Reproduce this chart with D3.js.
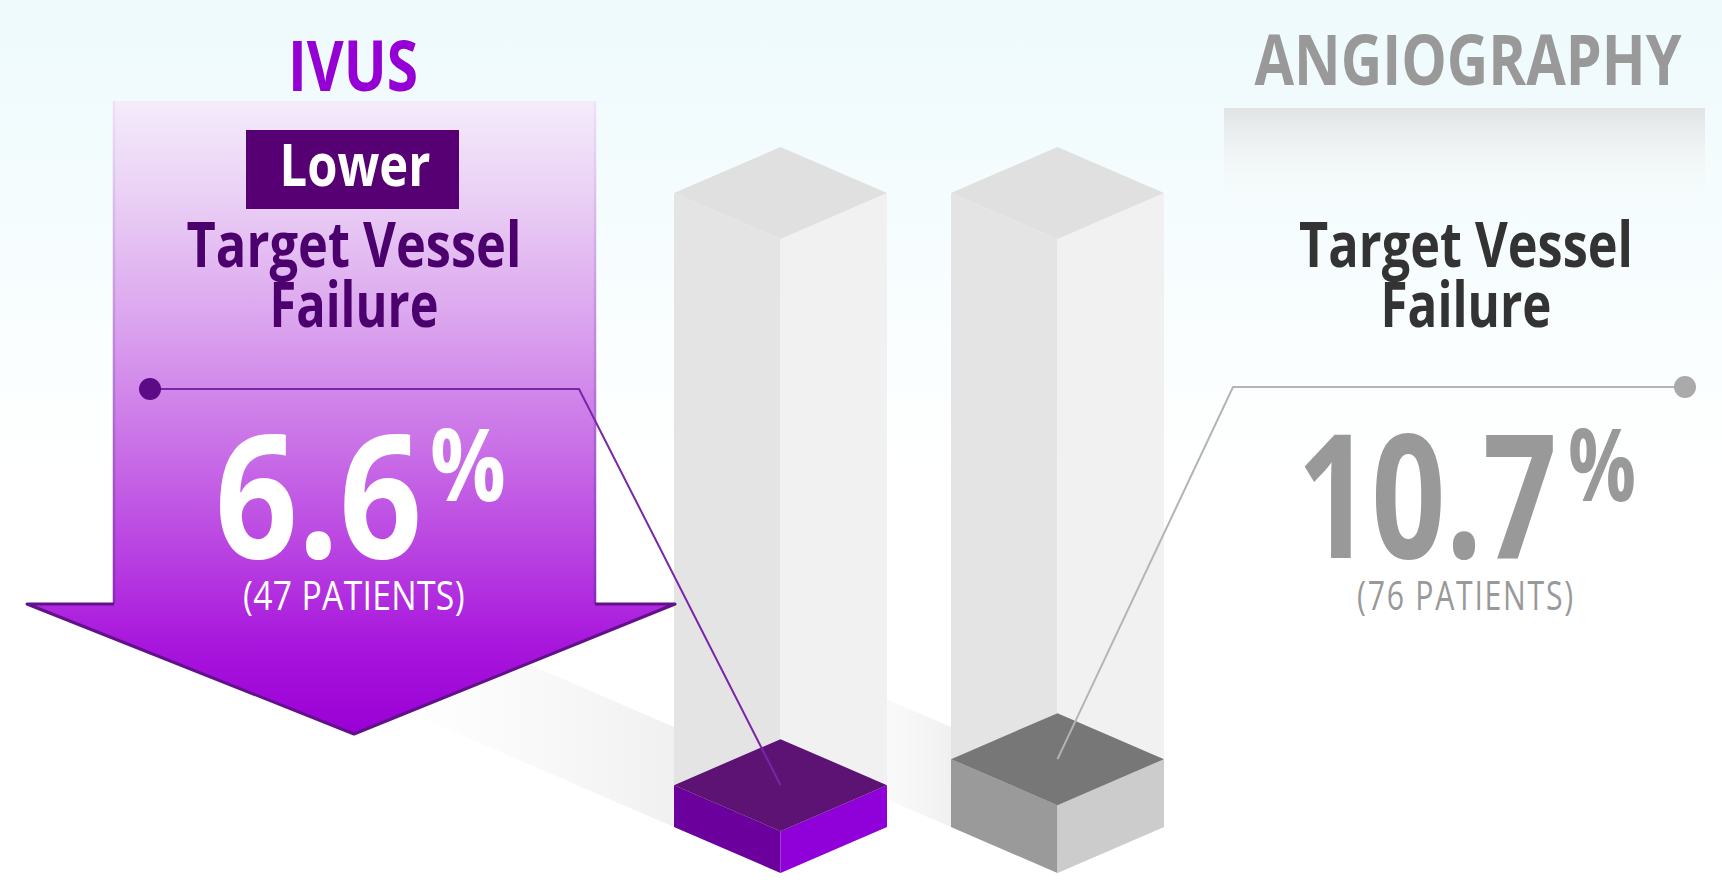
<!DOCTYPE html>
<html>
<head>
<meta charset="utf-8">
<script src="https://cdn.jsdelivr.net/npm/d3@7"></script>
<style>
  html, body { margin: 0; padding: 0; background: #ffffff; }
  svg { display: block; }
  text { font-family: "Open Sans", "Noto Sans", "DejaVu Sans", sans-serif; }
</style>
</head>
<body>
<svg id="chart" width="1722" height="882"></svg>
<script>
// ---------------- data ----------------
const categories   = ["IVUS", "ANGIOGRAPHY"];
const failureRates = [6.6, 10.7];          // % target vessel failure
const patients     = [47, 76];             // number of patients
const scaleMax     = 100;                  // ghost column = 100 %
const outcomeLines = ["Target Vessel", "Failure"];
const badgeLabel   = "Lower";

// ---------------- layout ----------------
const W = 1722, H = 882;
const svg = d3.select("#chart");
const defs = svg.append("defs");

const x = d3.scaleBand().domain(categories).range([674, 1164]).paddingInner(0.231);
const hScale = d3.scaleLinear().domain([0, scaleMax]).range([0, 634]);
const floorY = 873;          // front-bottom corner of the columns
const depth = 46;            // isometric half-depth
const halfW = x.bandwidth() / 2;
const cx = c => x(c) + halfW;

const palette = {
  IVUS:        { top: "#5c1373", left: "#6b009d", right: "#9000d8", text: "#ffffff", line: "#7a26a6", dot: "#5c0a86" },
  ANGIOGRAPHY: { top: "#777777", left: "#9a9a9a", right: "#cccccc", text: "#999999", line: "#b4b4b4", dot: "#aaaaaa" }
};

// ---------------- background ----------------
const bg = defs.append("linearGradient").attr("id", "bg").attr("x1", 0).attr("y1", 0).attr("x2", 0).attr("y2", 1);
bg.append("stop").attr("offset", "0%").attr("stop-color", "#eefafc");
bg.append("stop").attr("offset", "30%").attr("stop-color", "#f7fdfe");
bg.append("stop").attr("offset", "55%").attr("stop-color", "#ffffff");
svg.append("rect").attr("width", W).attr("height", H).attr("fill", "url(#bg)");

// ---------------- floor shadows ----------------
const sh = defs.append("linearGradient").attr("id", "shadow").attr("x1", 1).attr("y1", 0).attr("x2", 0).attr("y2", 0);
sh.append("stop").attr("offset", "0%").attr("stop-color", "#eaeaea").attr("stop-opacity", 0.7);
sh.append("stop").attr("offset", "100%").attr("stop-color", "#f4f4f4").attr("stop-opacity", 0);
const shadowLen = [300, 120];
const shadowH = 100;
categories.forEach((c, i) => {
  const x0 = cx(c) - halfW, y0 = floorY - depth;
  const L = shadowLen[i];
  const dy = L * depth / halfW;
  svg.append("path")
    .attr("d", `M${x0},${y0} L${x0 - L},${y0 - dy} L${x0 - L},${y0 - dy - shadowH} L${x0},${y0 - shadowH} Z`)
    .attr("fill", "url(#shadow)");
});

// ---------------- isometric boxes ----------------
function faces(c, h) {
  const m = cx(c), l = m - halfW, r = m + halfW, b = floorY;
  return {
    left:  [[l, b - depth], [m, b], [m, b - h], [l, b - depth - h]],
    right: [[m, b], [r, b - depth], [r, b - depth - h], [m, b - h]],
    top:   [[l, b - depth - h], [m, b - 2 * depth - h], [r, b - depth - h], [m, b - h]]
  };
}
const poly = pts => "M" + pts.map(p => p.join(",")).join("L") + "Z";

const ghost = svg.append("g");
categories.forEach(c => {
  const f = faces(c, hScale(scaleMax));
  ghost.append("path").attr("d", poly(f.left)).attr("fill", "#e4e4e4");
  ghost.append("path").attr("d", poly(f.right)).attr("fill", "#f1f1f1");
  ghost.append("path").attr("d", poly(f.top)).attr("fill", "#e0e0e0");
});

const bars = svg.append("g");
categories.forEach((c, i) => {
  const f = faces(c, hScale(failureRates[i]));
  const p = palette[c];
  bars.append("path").attr("d", poly(f.left)).attr("fill", p.left);
  bars.append("path").attr("d", poly(f.right)).attr("fill", p.right);
  bars.append("path").attr("d", poly(f.top)).attr("fill", p.top);
});

// ---------------- IVUS arrow ----------------
const ag = defs.append("linearGradient").attr("id", "arrowFill").attr("gradientUnits", "userSpaceOnUse")
  .attr("x1", 0).attr("y1", 101).attr("x2", 0).attr("y2", 734);
[["0%", "#f4ecfb"], ["15%", "#ead0f5"], ["35%", "#dba4ee"], ["55%", "#c96fe7"], ["72%", "#b840e1"], ["86%", "#a816dc"], ["100%", "#9a00d6"]]
  .forEach(([o, col]) => ag.append("stop").attr("offset", o).attr("stop-color", col));
const edgeG = defs.append("linearGradient").attr("id", "edge").attr("gradientUnits", "userSpaceOnUse")
  .attr("x1", 0).attr("y1", 101).attr("x2", 0).attr("y2", 604);
edgeG.append("stop").attr("offset", "0%").attr("stop-color", "#efe3f8");
edgeG.append("stop").attr("offset", "100%").attr("stop-color", "#8a28be");

const arrow = svg.append("g");
arrow.append("path").attr("d", "M114,101 L595,101 L595,604 L675,604 L354,734 L27,604 L114,604 Z")
  .attr("fill", "url(#arrowFill)");
arrow.append("path").attr("d", "M114,101 L114,604 M595,101 L595,604")
  .attr("stroke", "url(#edge)").attr("stroke-width", 2.5).attr("fill", "none");
arrow.append("path").attr("d", "M114,604 L27,604 L354,734 L675,604 L595,604")
  .attr("stroke", "#62108c").attr("stroke-width", 3).attr("fill", "none").attr("stroke-linejoin", "round");

// ---------------- right backdrop ----------------
const rb = defs.append("linearGradient").attr("id", "rightBox").attr("x1", 0).attr("y1", 0).attr("x2", 0).attr("y2", 1);
rb.append("stop").attr("offset", "0%").attr("stop-color", "#e2e4e4");
rb.append("stop").attr("offset", "100%").attr("stop-color", "#ffffff").attr("stop-opacity", 0);
svg.append("rect").attr("x", 1224).attr("y", 108).attr("width", 481).attr("height", 112).attr("fill", "url(#rightBox)");

// ---------------- text helpers ----------------
// centred label squeezed horizontally to a target width
function label(g, str, xc, y, size, weight, color, width) {
  const t = g.append("text").attr("text-anchor", "middle")
    .attr("font-size", size).attr("font-weight", weight).attr("fill", color).text(str);
  const len = t.node().getComputedTextLength();
  t.attr("transform", `translate(${xc},${y}) scale(${width / len},1)`);
  return t;
}

const txt = svg.append("g");
// titles
label(txt, categories[0], 353, 91, 69, 700, "#9500d5", 130);
label(txt, categories[1], 1468, 85, 70, 700, "#999999", 427);

// IVUS badge
txt.append("rect").attr("x", 246).attr("y", 130).attr("width", 213).attr("height", 79).attr("fill", "#560073");
label(txt, badgeLabel, 355, 186, 60, 700, "#ffffff", 151);

// outcome label
label(txt, outcomeLines[0], 354, 267, 62, 700, "#4b006e", 335);
label(txt, outcomeLines[1], 354, 327, 62, 700, "#4b006e", 169);
label(txt, outcomeLines[0], 1466, 267, 62, 700, "#333333", 334);
label(txt, outcomeLines[1], 1466, 327, 62, 700, "#333333", 171);

// value block: number + superscript % + patient count, one text element
// [numX, numW, pctX, pctW, patX, patW]
const valueBox = [[215, 207, 430, 67, 243, 222], [1297, 260, 1568, 57, 1357, 218]];
categories.forEach((c, i) => {
  const p = palette[c];
  const [vx, vw, px, pw, nx, nw] = valueBox[i];
  const t = txt.append("text").attr("fill", p.text).attr("text-anchor", "start");
  const num = t.append("tspan").attr("font-size", 172).attr("font-weight", 700)
    .attr("x", 0).attr("y", 558).text(d3.format(".1f")(failureRates[i]));
  const pct = t.append("tspan").attr("font-size", 100).attr("font-weight", 700)
    .attr("y", 501).text("%");
  const pat = t.append("tspan").attr("font-size", 40).attr("font-weight", 400)
    .attr("y", 610).text(`(${patients[i]} PATIENTS)`);
  const s = vw / num.node().getComputedTextLength();
  const fit = (ts, target, str) => {
    const n = str.length;
    const w0 = ts.node().getComputedTextLength();
    ts.attr("letter-spacing", (target / s - w0) / n);
  };
  fit(pct, pw, "%");
  fit(pat, nw, `(${patients[i]} PATIENTS)`);
  pct.attr("x", (px - vx) / s);
  pat.attr("x", (nx - vx) / s);
  t.attr("transform", `translate(${vx},0) scale(${s},1)`);
});

// ---------------- connectors ----------------
const con = svg.append("g").attr("fill", "none");
const dots = [[150, 389, 579], [1685, 387, 1233]];
categories.forEach((c, i) => {
  const p = palette[c];
  const [dx, dy, kx] = dots[i];
  const tx = cx(c), ty = floorY - depth - hScale(failureRates[i]);
  con.append("path").attr("d", `M${dx},${dy} L${kx},${dy} L${tx},${ty}`)
    .attr("stroke", p.line).attr("stroke-width", 2);
  svg.append("circle").attr("cx", dx).attr("cy", dy).attr("r", 11).attr("fill", p.dot);
});
</script>
</body>
</html>
